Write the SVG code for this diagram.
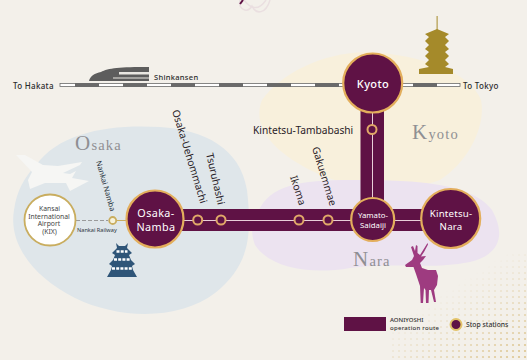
<svg xmlns="http://www.w3.org/2000/svg" width="527" height="360" viewBox="0 0 527 360">
<style>
.sans{font-family:"Noto Sans","Open Sans",sans-serif}
.serif{font-family:"Liberation Serif",serif;fill:#8f8f93}
.lbl{font-size:10.200px;fill:#2a2228}
.rail{font-size:7.500px;fill:#2a2a2a;font-weight:500;letter-spacing:.3px}
.big{fill:#5f1245;stroke:#e3ae5c;stroke-width:2.2}
.name{fill:#fff;text-anchor:middle;font-size:11px;letter-spacing:.4px}
.stop{fill:#5f1245;stroke:#e0a868;stroke-width:2}
</style>
<defs>
<pattern id="dots" width="6" height="6" patternUnits="userSpaceOnUse">
<circle cx="3" cy="3" r="1.1" fill="#dcc58e"/>
</pattern>
<linearGradient id="fade" x1="0.2" y1="0.1" x2="0.9" y2="1">
<stop offset="0.3" stop-color="#fff" stop-opacity="0"/>
<stop offset="1" stop-color="#fff" stop-opacity="1"/>
</linearGradient>
<mask id="dotMask"><rect x="390" y="250" width="137" height="110" fill="url(#fade)"/></mask>
</defs>

<rect id="paper" width="527" height="360" fill="#f3f0ea"/>
<rect x="390" y="250" width="137" height="110" fill="url(#dots)" mask="url(#dotMask)"/>

<!-- top ornament -->
<g fill="none" stroke="#eadfe0" stroke-width="1.5">
<path d="M240 0C238 9 247 14 252 6C256 15 266 14 270 0"/>
<path d="M244 0C250 8 258 12 266 0"/>
</g>
<path d="M243 0L240 4" stroke="#5f1245" stroke-width="2"/>

<!-- regions -->
<path id="region-osaka" d="M36 165C60 132 110 124 160 127C205 130 240 148 247 190C252 235 250 265 215 293C180 320 120 320 75 298C35 278 8 245 14 210C17 190 24 178 36 165Z" fill="#dfe6ea"/>
<path id="region-kyoto" d="M262 100C280 75 320 52 370 52C420 55 470 72 481 100C486 125 470 160 440 180C400 195 350 190 310 170C280 155 250 130 262 100Z" fill="#f8f0dc"/>
<path id="region-nara" d="M258 212C270 185 300 180 350 180C400 180 470 180 492 210C506 235 500 255 470 262C430 270 400 262 350 268C310 275 270 268 255 245C250 232 252 222 258 212Z" fill="#ece3f0"/>

<text class="serif" x="75" y="150" font-size="14.5" letter-spacing="1.2"><tspan font-size="21">O</tspan>saka</text>
<text class="serif" x="412" y="139" font-size="14.5" letter-spacing="1.2"><tspan font-size="21">K</tspan>yoto</text>
<text class="serif" x="353" y="266" font-size="14.5" letter-spacing="1.2"><tspan font-size="21">N</tspan>ara</text>

<g id="connectors">
<!-- Shinkansen line -->
<rect x="60" y="83.500" width="400" height="3" fill="#fff" stroke="#6a6a6a" stroke-width=".8"/>
<g fill="#6a6a6a">
<rect x="75" y="83" width="24" height="4"/><rect x="123" y="83" width="24" height="4"/>
<rect x="171" y="83" width="24" height="4"/><rect x="219" y="83" width="24" height="4"/>
<rect x="267" y="83" width="24" height="4"/><rect x="315" y="83" width="24" height="4"/>
<rect x="413" y="83" width="24" height="4"/>
</g>
<!-- Nankai Railway -->
<line x1="76" y1="220.500" x2="108" y2="220.500" stroke="#9a9a9a" stroke-width="1" stroke-dasharray="4 2"/>
<line x1="117" y1="220.500" x2="127" y2="220.500" stroke="#c9ad5f" stroke-width="1"/>
<!-- AONIYOSHI route -->
<rect x="155" y="209" width="275" height="22" fill="#5f1245"/>
<rect x="360.500" y="100" width="23.500" height="120" fill="#5f1245"/>
<line x1="180" y1="220.500" x2="430" y2="220.500" stroke="#e8cfd8" stroke-width="1"/>
<line x1="372.500" y1="100" x2="372.500" y2="220" stroke="#e8cfd8" stroke-width="1"/>
</g>

<g id="train" fill="#5d5d5d">
<path d="M89 81C90 76 95 73 101 72C108 68 120 67 149 67L149 81Z"/>
<rect x="119" y="72" width="30" height="2.500" fill="#e9e7e2"/>
<rect x="113" y="77.500" width="36" height="1" fill="#e9e7e2"/>
</g>
<text class="sans rail" x="154" y="80">Shinkansen</text>
<text class="sans rail" x="13" y="88.500" style="font-size:8px">To Hakata</text>
<text class="sans rail" x="463" y="88.500" style="font-size:8px">To Tokyo</text>

<g id="pagoda" fill="#a58a2a">
<rect x="436.600" y="16" width="1" height="16"/>
<path d="M437 29L449 34L445 37L449 41L445 45L449 49L445 52L449 56L445 60L449 64L445 67L453 69L453 74L419 74L419 69L429 67L425 64L429 60L425 56L429 52L425 49L429 45L425 41L429 37L425 34Z"/>
</g>

<g id="plane" fill="#f6f6f4">
<path d="M16 155L25 155L43 165L58 166L82 162L80 165L63 173L70 174L76 171L72 178L89 181L70 191L66 183L45 183L30 189L28 180L32 172Z"/>
</g>

<g id="castle" fill="#2f5578">
<path d="M116 243L119 246L125 246L128 243L127 248L132 253L129 255L131 260L135 264L132 266L133 270L137 277L107 277L111 270L112 266L109 264L113 260L115 255L112 253L117 248Z"/>
<g fill="none" stroke="#fff" stroke-width="2.500" stroke-dasharray="3 1.200">
<line x1="116.500" y1="251.500" x2="127.500" y2="251.500"/><line x1="114" y1="259.500" x2="130" y2="259.500"/><line x1="112" y1="268.500" x2="132" y2="268.500"/>
</g>
</g>

<g id="deer" fill="#9e3b80">
<path d="M405 265L412 260L414 256L411 247L413 246L415 251L416 245L417.500 246L417.500 253L420 255L427.500 243L428 244.500L424 252L421 256.500L426 256L423 260L420 263L422 268L428 270L436 270L438 276L437 285L434 290L436 302L434 302L431 290L429 290L428.500 303L426 303L425.500 290L424 288L423 303L420.700 303L420 286L416 274L413.500 267L406 267Z"/>
</g>

<g id="kansai">
<circle cx="50" cy="220" r="25.500" fill="#fff" stroke="#c9ad5f" stroke-width="1.800"/>
<text class="sans" text-anchor="middle" font-size="6.800" fill="#444"><tspan x="49.500" y="211">Kansai</tspan><tspan x="49" y="218.500">International</tspan><tspan x="49" y="226">Airport</tspan><tspan x="49.500" y="234">(KIX)</tspan></text>
</g>
<g id="nankai-namba">
<circle cx="112.700" cy="220.500" r="3.500" fill="#f6f2dc" stroke="#c9ad5f" stroke-width="1.800"/>
<text class="sans" font-size="7.500" fill="#2a3440" transform="translate(96 161.500) rotate(74)">Nankai Namba</text>
</g>
<text class="sans" x="77" y="231.500" font-size="5.600" fill="#2a3440">Nankai Railway</text>

<g id="osaka-namba">
<circle class="big" cx="155" cy="219" r="28.500"/>
<text class="sans name" style="font-size:10.800px"><tspan x="156" y="216.500">Osaka-</tspan><tspan x="156" y="230.500">Namba</tspan></text>
</g>
<g id="kyoto">
<circle class="big" cx="372.700" cy="83" r="29.500"/>
<text class="sans name" x="373" y="87.500" font-weight="500">Kyoto</text>
</g>
<g id="yamato-saidaiji">
<circle class="big" cx="372.700" cy="219.500" r="21.500"/>
<text class="sans name" style="font-size:7.800px;letter-spacing:0"><tspan x="373" y="217.500">Yamato-</tspan><tspan x="373" y="227.500">Saidaiji</tspan></text>
</g>
<g id="kintetsu-nara">
<circle class="big" cx="450.700" cy="218.500" r="29.500"/>
<text class="sans name" style="font-size:9.700px;letter-spacing:.2px"><tspan x="451" y="216.500">Kintetsu-</tspan><tspan x="451" y="230">Nara</tspan></text>
</g>

<g id="osaka-uehommachi">
<circle class="stop" cx="197.700" cy="220" r="4.500"/>
<text class="sans lbl" transform="translate(172 111) rotate(73)">Osaka-Uehommachi</text>
</g>
<g id="tsuruhashi">
<circle class="stop" cx="221" cy="220" r="4.500"/>
<text class="sans lbl" transform="translate(206 154) rotate(77)">Tsuruhashi</text>
</g>
<g id="ikoma">
<circle class="stop" cx="299" cy="220" r="4.500"/>
<text class="sans lbl" transform="translate(290 177) rotate(72)">Ikoma</text>
</g>
<g id="gakuemmae">
<circle class="stop" cx="328" cy="220" r="4.500"/>
<text class="sans lbl" transform="translate(312 148) rotate(73)">Gakuemmae</text>
</g>
<g id="kintetsu-tambabashi">
<circle class="stop" cx="372" cy="129.500" r="4.500"/>
<text class="sans lbl" x="253" y="133.500">Kintetsu-Tambabashi</text>
</g>

<g id="legend">
<rect x="344" y="317" width="42" height="14" fill="#5f1245"/>
<text class="sans" font-size="6" font-weight="500" fill="#333"><tspan x="390" y="322">AONIYOSHI</tspan><tspan x="390" y="330" textLength="49">operation route</tspan></text>
<circle cx="456" cy="324.500" r="5.500" fill="#5f1245" stroke="#e3c36a" stroke-width="2"/>
<text class="sans" x="466" y="327" font-size="6.800" font-weight="500" fill="#333">Stop stations</text>
</g>
</svg>
